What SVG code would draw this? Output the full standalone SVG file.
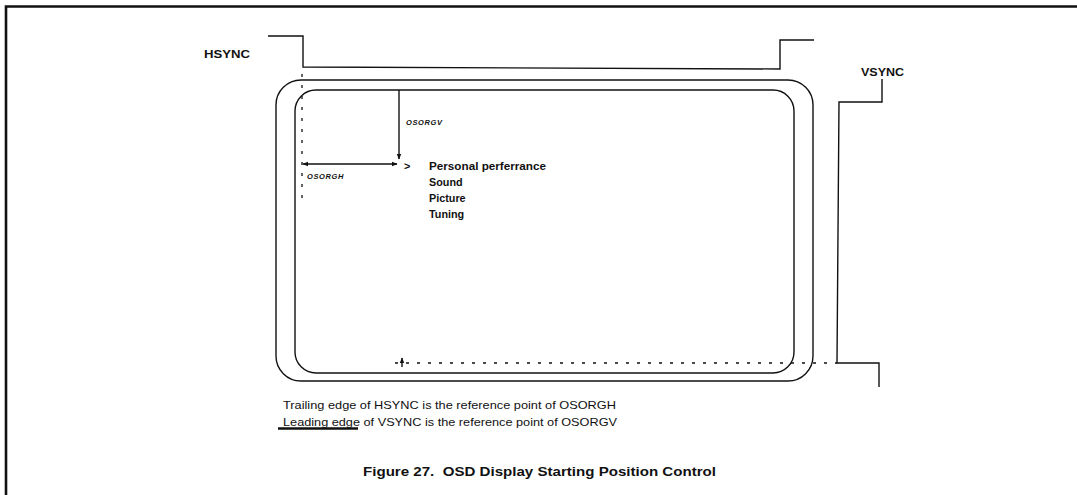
<svg xmlns="http://www.w3.org/2000/svg" width="1077" height="495" viewBox="0 0 1077 495">
<defs>
<style>
.ln{fill:none;stroke:#111;stroke-width:1.4}
.frame{fill:none;stroke:#111;stroke-width:2.6}
.dash{fill:none;stroke:#111;stroke-width:1.3;stroke-dasharray:3 8}
.lbl{font-family:"Liberation Sans",Arial,sans-serif;font-size:11px;font-weight:bold;fill:#111}
.menu{font-family:"Liberation Sans",Arial,sans-serif;font-size:10.8px;font-weight:bold;fill:#111}
.ital{font-family:"Liberation Sans",Arial,sans-serif;font-size:7.5px;font-weight:bold;font-style:italic;fill:#111;letter-spacing:0.6px}
.note{font-family:"Liberation Sans",Arial,sans-serif;font-size:11px;fill:#111}
.cap{font-family:"Liberation Sans",Arial,sans-serif;font-size:13.5px;font-weight:bold;fill:#111}
</style>
<marker id="ah" viewBox="0 0 10 10" refX="9" refY="5" markerWidth="6" markerHeight="6" orient="auto-start-reverse" markerUnits="userSpaceOnUse">
<path d="M0,1 L10,5 L0,9 z" fill="#111"/>
</marker>
</defs>
<rect x="0" y="0" width="1077" height="495" fill="#fff"/>
<g id="frame">
<path class="frame" d="M6,495 L6,6.5 L1077,6.5"/>
</g>
<g id="hsync">
<text class="lbl" x="204" y="58" textLength="46" lengthAdjust="spacingAndGlyphs">HSYNC</text>
<path class="ln" d="M268,36 L303,36 L303,67 L780,69 L780,40 L814,40"/>
</g>
<g id="vsync">
<text class="lbl" x="861" y="76" textLength="43" lengthAdjust="spacingAndGlyphs">VSYNC</text>
<path class="ln" d="M882,79 L882,102 L839,102 L837,363 L879,363 L879,387"/>
</g>
<g id="screen">
<rect class="ln" x="276" y="80" width="537" height="301" rx="25" ry="25"/>
<rect class="ln" x="295" y="90" width="499" height="283" rx="21" ry="21"/>
</g>
<g id="menu">
<text class="menu" x="404" y="170">&gt;</text>
<text class="menu" x="429" y="170" textLength="117" lengthAdjust="spacingAndGlyphs">Personal perferrance</text>
<text class="menu" x="429" y="186">Sound</text>
<text class="menu" x="429" y="202">Picture</text>
<text class="menu" x="429" y="218">Tuning</text>
</g>
<g id="labels">
<text class="ital" x="406" y="125">OSORGV</text>
<text class="ital" x="307" y="179">OSORGH</text>
</g>
<g id="connectors">
<path class="dash" d="M302,74 L302,202"/>
<path class="ln" d="M399,90 L399,159" marker-end="url(#ah)"/>
<path class="ln" d="M303,164 L397,164" marker-start="url(#ah)" marker-end="url(#ah)"/>
<path class="dash" d="M395,363 L837,363" stroke-dasharray="4.5 11"/>
<path class="ln" d="M402,367 L402,358" stroke-width="1" marker-end="url(#ah)"/>
</g>
<g id="notes">
<text class="note" x="283" y="409" textLength="333" lengthAdjust="spacingAndGlyphs">Trailing edge of HSYNC is the reference point of OSORGH</text>
<text class="note" x="283" y="426" textLength="334" lengthAdjust="spacingAndGlyphs">Leading edge of VSYNC is the reference point of OSORGV</text>
<path d="M278,428.5 L358,428.5" stroke="#111" stroke-width="2.4"/>
<text class="cap" x="363" y="476" textLength="353" lengthAdjust="spacingAndGlyphs" xml:space="preserve">Figure 27.  OSD Display Starting Position Control</text>
</g>
</svg>
